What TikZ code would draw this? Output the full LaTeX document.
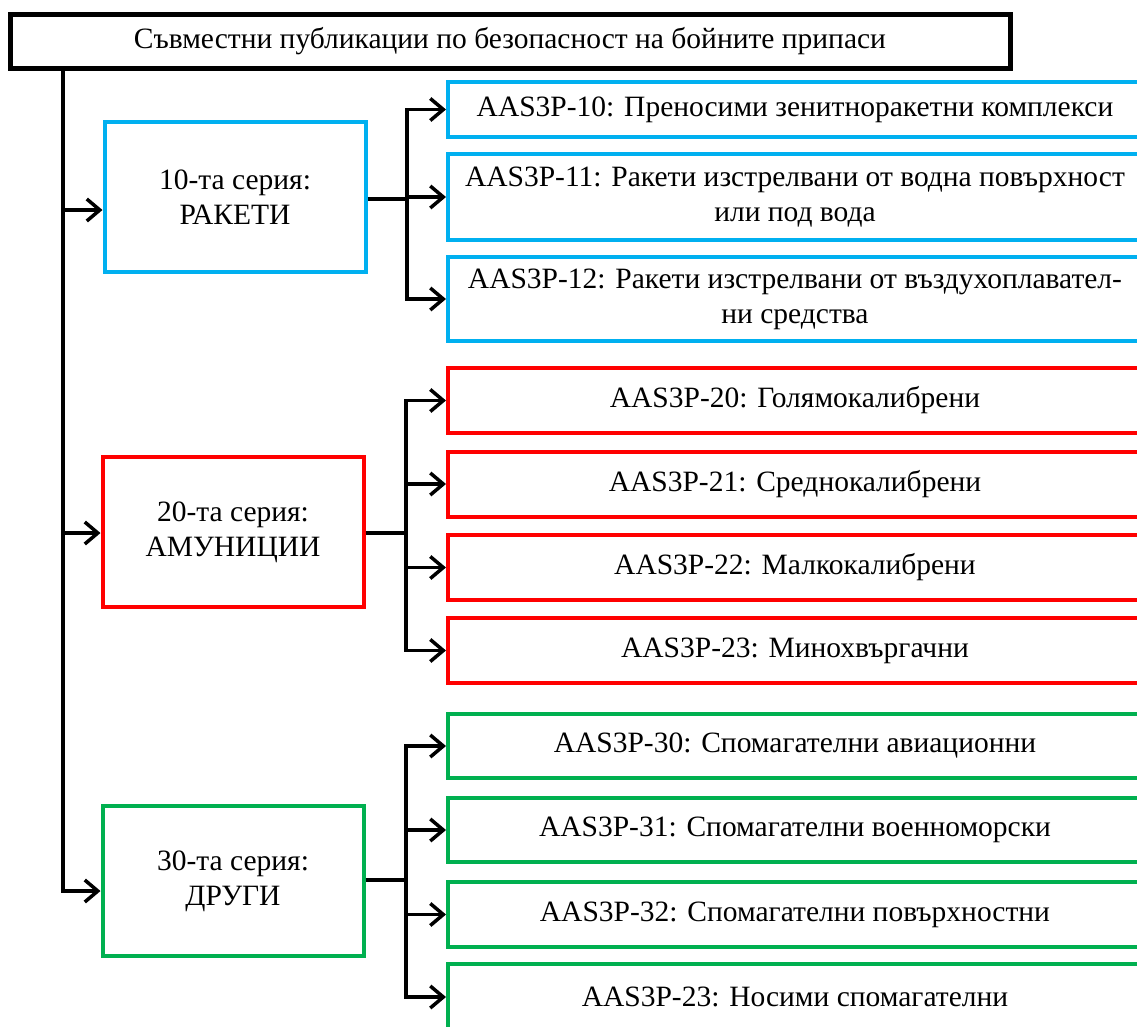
\documentclass[tikz,border=0pt]{standalone}
\usepackage{fontspec}
\setmainfont{Liberation Serif}
\usetikzlibrary{arrows.meta}
\definecolor{rblue}{RGB}{0,176,240}
\definecolor{rred}{RGB}{255,0,0}
\definecolor{rgreen}{RGB}{0,176,80}
\begin{document}
\begin{tikzpicture}[x=1pt,y=-1pt,font=\fontsize{29.5}{35}\selectfont,
		>={Straight Barb[length=13pt,width=22pt]},
		conn/.style={line width=3.5pt},
		series/.style={draw=#1,line width=4pt,minimum width=261pt,minimum height=150pt,align=center,inner sep=0pt},
		pub/.style={draw=#1,line width=4pt,anchor=west,minimum width=694pt,align=center,inner sep=0pt}]
			\useasboundingbox (0,0) rectangle (1137,1026);
			\clip (0,0) rectangle (1137,1026);
			\node[draw,line width=5pt,minimum width=1000pt,minimum height=54pt,inner sep=0pt] (title) at (510,41) {Съвместни публикации по безопасност на бойните припаси};
			\node[series=rblue] (rak) at (235,197) {10-та серия:\\РАКЕТИ};
			\node[series=rred] (amu) at (233,532) {20-та серия:\\АМУНИЦИИ};
			\node[series=rgreen] (dru) at (233,881) {30-та серия:\\ДРУГИ};
			\node[pub=rblue,minimum height=55pt] (p10) at (446,109.5) {AAS3P-10: Преносими зенитноракетни комплекси};
			\node[pub=rblue,minimum height=86pt] (p11) at (446,197) {AAS3P-11: Ракети изстрелвани от водна повърхност\\или под вода};
			\node[pub=rblue,minimum height=84pt] (p12) at (446,299) {AAS3P-12: Ракети изстрелвани от въздухоплавател-\\ни средства};
			\node[pub=rred,minimum height=65pt] (p20) at (446,400.5) {AAS3P-20: Голямокалибрени};
			\node[pub=rred,minimum height=65pt] (p21) at (446,484) {AAS3P-21: Среднокалибрени};
			\node[pub=rred,minimum height=65pt] (p22) at (446,567.5) {AAS3P-22: Малкокалибрени};
			\node[pub=rred,minimum height=65pt] (p23) at (446,650.5) {AAS3P-23: Минохвъргачни};
			\node[pub=rgreen,minimum height=64pt] (p30) at (446,746) {AAS3P-30: Спомагателни авиационни};
			\node[pub=rgreen,minimum height=64pt] (p31) at (446,830) {AAS3P-31: Спомагателни военноморски};
			\node[pub=rgreen,minimum height=65pt] (p32) at (446,914.5) {AAS3P-32: Спомагателни повърхностни};
			\node[pub=rgreen,minimum height=66pt] (p33) at (446,997) {AAS3P-23: Носими спомагателни};
			\coordinate (t1) at (63,210);
			\coordinate (t2) at (63,533);
			\coordinate (t3) at (63,891);
			\draw[conn,->] (title.south -| t1) -- (t3) -- (t3 -| dru.west);
			\draw[conn,->] (t1) -- (t1 -| rak.west);
			\draw[conn,->] (t2) -- (t2 -| amu.west);
			\coordinate (b1) at (407,199);
			\coordinate (b2) at (406,533);
			\coordinate (b3) at (406,880);
			\draw[conn] (rak.east |- b1) -- (b1);
			\draw[conn] (amu.east |- b2) -- (b2);
			\draw[conn] (dru.east |- b3) -- (b3);
			\draw[conn,line cap=rect] (p10.west -| b1) -- (p12.west -| b1);
			\draw[conn,line cap=rect] (p20.west -| b2) -- (p23.west -| b2);
			\draw[conn,line cap=rect] (p30.west -| b3) -- (p33.west -| b3);
			\foreach \p in {p10,p11,p12}
				\draw[conn,->] (\p.west -| b1) -- (\p.west);
			\foreach \p in {p20,p21,p22,p23}
				\draw[conn,->] (\p.west -| b2) -- (\p.west);
			\foreach \p in {p30,p31,p32,p33}
				\draw[conn,->] (\p.west -| b3) -- (\p.west);
\end{tikzpicture}
\end{document}
